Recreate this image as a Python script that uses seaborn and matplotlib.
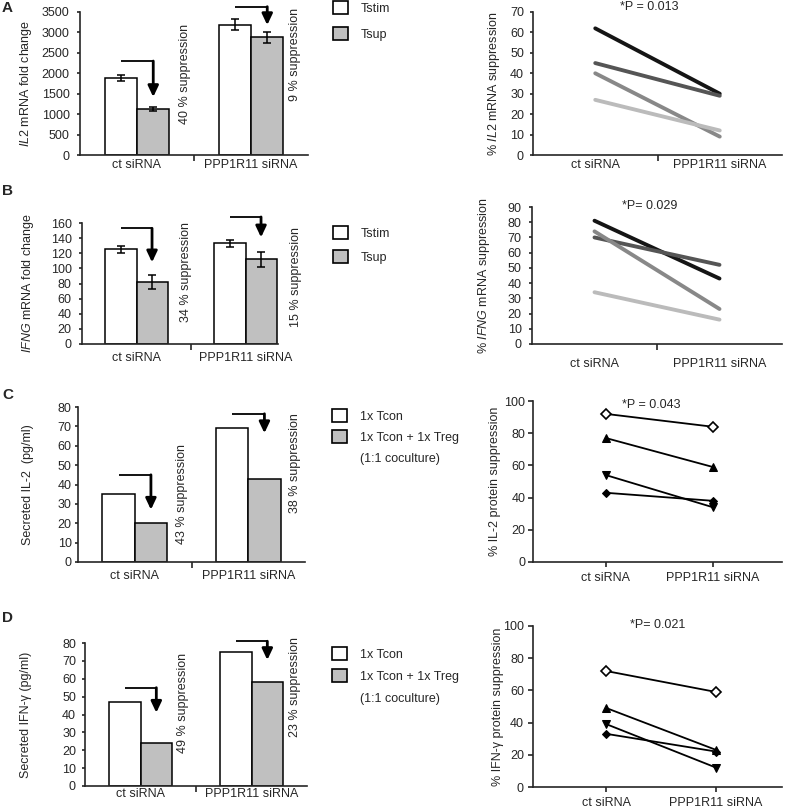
import numpy as np
import pandas as pd
import seaborn as sns
import matplotlib.pyplot as plt
from matplotlib.patches import Patch
from matplotlib.ticker import MultipleLocator, FixedLocator

# %%
# Data
groups = ['ct siRNA', 'PPP1R11 siRNA']
donors = ['d1', 'd2', 'd3', 'd4']

# A: IL2 mRNA
a_names = ['Tstim', 'Tsup']
a_hi = [1880, 3190]
a_lo = [1130, 2880]
a_hi_err = [80, 130]
a_lo_err = [50, 130]
a_supp = ['40 % suppression', '9 % suppression']
a_ct = [62, 45, 40, 27]
a_kd = [30, 29, 9, 12]
a_p = '*P = 0.013'

# B: IFNG mRNA
b_hi = [125, 133]
b_lo = [82, 112]
b_hi_err = [5, 5]
b_lo_err = [9, 10]
b_supp = ['34 % suppression', '15 % suppression']
b_ct = [81, 70, 74, 34]
b_kd = [43, 52, 23, 16]
b_p = '*P= 0.029'

# C: secreted IL-2
c_names = ['1x Tcon', '1x Tcon + 1x Treg']
c_hi = [35, 69]
c_lo = [20, 43]
c_supp = ['43 % suppression', '38 % suppression']
c_ct = [92, 77, 54, 43]
c_kd = [84, 59, 34, 38]
c_p = '*P = 0.043'

# D: secreted IFN-g
d_hi = [47, 75]
d_lo = [24, 58]
d_supp = ['49 % suppression', '23 % suppression']
d_ct = [72, 49, 39, 33]
d_kd = [59, 23, 12, 22]
d_p = '*P= 0.021'

# %%
sns.set_style('ticks')
plt.rcParams['font.family'] = ['Liberation Sans', 'DejaVu Sans']
plt.rcParams['mathtext.fontset'] = 'custom'
plt.rcParams['mathtext.it'] = 'Liberation Sans:italic'
plt.rcParams['mathtext.rm'] = 'Liberation Sans'
plt.rcParams['font.size'] = 9
plt.rcParams['axes.linewidth'] = 1.2
plt.rcParams['xtick.major.width'] = 1.2
plt.rcParams['ytick.major.width'] = 1.2
plt.rcParams['xtick.minor.width'] = 1.2
plt.rcParams['xtick.labelsize'] = 9
plt.rcParams['ytick.labelsize'] = 9
plt.rcParams['axes.labelsize'] = 9

W, H = 790, 809
fig = plt.figure(figsize=(W / 100, H / 100), dpi=100)


def add_ax(x0, y0, x1, y1):
    return fig.add_axes([x0 / W, 1 - y1 / H, (x1 - x0) / W, (y1 - y0) / H])


def ylabel_at(ax, text, xc):
    ax.set_ylabel(text)
    bb = ax.get_position()
    ax.yaxis.set_label_coords((xc + 6) / W, bb.y0 + bb.height / 2, transform=fig.transFigure)


def bar_panel(ax, names, hi, lo, hi_err, lo_err, ymax, ystep, arrows, texts, text_pos,
              xpad, ypad):
    df = pd.DataFrame({'group': groups * 2,
                       'cond': [names[0]] * 2 + [names[1]] * 2,
                       'value': hi + lo})
    sns.barplot(data=df, x='group', y='value', hue='cond',
                palette={names[0]: 'white', names[1]: '#c0c0c0'},
                width=0.57, edgecolor='black', linewidth=1.1, saturation=1,
                errorbar=None, legend=False, ax=ax)
    if hi_err is not None:
        for cont, err in zip(ax.containers, [hi_err, lo_err]):
            xs = [p.get_x() + p.get_width() / 2 for p in cont]
            ys = [p.get_height() for p in cont]
            ax.errorbar(xs, ys, yerr=err, fmt='none', ecolor='black',
                        elinewidth=1.1, capsize=3, capthick=1.1)
    for i in range(2):
        p1, p2 = ax.containers[0][i], ax.containers[1][i]
        x1 = p1.get_x() + p1.get_width() / 2
        x2 = p2.get_x() + p2.get_width() / 2
        ytop, ytip = arrows[i]
        ax.plot([x1, x2], [ytop, ytop], color='black', lw=1.3,
                solid_capstyle='butt', clip_on=False)
        ax.annotate('', xy=(x2, ytip), xytext=(x2, ytop), annotation_clip=False,
                    arrowprops=dict(arrowstyle='-|>,head_length=0.55,head_width=0.26',
                                    lw=2.0, color='black', shrinkA=0, shrinkB=0,
                                    mutation_scale=12))
        ax.text(i + text_pos[i][0], text_pos[i][1], texts[i], rotation=90,
                ha='center', va='center', fontsize=9)
    ax.set_xlim(-0.5, 1.5)
    ax.set_ylim(0, ymax)
    ax.yaxis.set_major_locator(MultipleLocator(ystep))
    ax.set_xticks([0, 1], groups)
    ax.xaxis.set_minor_locator(FixedLocator([0.5]))
    ax.tick_params(axis='x', which='major', length=0, pad=xpad)
    ax.tick_params(axis='x', which='minor', length=4, direction='out')
    ax.tick_params(axis='y', length=2.5, direction='out', pad=ypad)
    ax.set_xlabel('')
    sns.despine(ax=ax)


def excel_lines(ax, ct, kd, ymax, xpad, ypad):
    df = pd.DataFrame({'donor': np.repeat(donors, 2),
                       'group': groups * 4,
                       'value': [v for pair in zip(ct, kd) for v in pair]})
    sns.lineplot(data=df, x='group', y='value', hue='donor', sort=False,
                 palette=['#151515', '#555555', '#888888', '#bbbbbb'],
                 linewidth=2.8, legend=False, ax=ax)
    ax.set_xlim(-0.5, 1.5)
    ax.set_ylim(0, ymax)
    ax.yaxis.set_major_locator(MultipleLocator(10))
    ax.set_xticks([0, 1], groups)
    ax.xaxis.set_minor_locator(FixedLocator([0.5]))
    ax.tick_params(axis='x', which='major', length=0, pad=xpad)
    ax.tick_params(axis='x', which='minor', length=4, direction='out')
    ax.tick_params(axis='y', length=2.5, direction='out', pad=ypad)
    ax.set_xlabel('')
    sns.despine(ax=ax)


def prism_lines(ax, ct, kd, xlim, xpad, ypad):
    df = pd.DataFrame({'donor': np.repeat(donors, 2),
                       'group': groups * 4,
                       'value': [v for pair in zip(ct, kd) for v in pair]})
    sns.lineplot(data=df, x='group', y='value', hue='donor', style='donor', sort=False,
                 palette=['black'] * 4, markers=['D', '^', 'v', 'D'], dashes=False,
                 linewidth=1.3, markersize=6, markeredgecolor='black',
                 legend=False, ax=ax)
    lines = ax.get_lines()
    lines[0].set_markerfacecolor('white')
    lines[0].set_markeredgewidth(1.2)
    lines[0].set_markersize(5.5)
    lines[3].set_markersize(4)
    ax.set_xlim(*xlim)
    ax.set_ylim(0, 100)
    ax.yaxis.set_major_locator(MultipleLocator(20))
    ax.set_xticks([0, 1], groups)
    ax.tick_params(axis='both', length=3.5, direction='out')
    ax.tick_params(axis='x', pad=xpad)
    ax.tick_params(axis='y', pad=ypad)
    ax.set_xlabel('')
    sns.despine(ax=ax)


def legend_at(names, x, y, spacing, extra=None):
    handles = [Patch(facecolor='white', edgecolor='black', linewidth=1.2),
               Patch(facecolor='#c0c0c0', edgecolor='black', linewidth=1.2)]
    labels = list(names)
    if extra:
        handles.append(Patch(facecolor='none', edgecolor='none'))
        labels.append(extra)
    fig.legend(handles, labels, loc='upper left', bbox_to_anchor=(x / W, 1 - y / H),
               frameon=False, borderpad=0, borderaxespad=0, handlelength=1.2,
               handleheight=1.2, handletextpad=1.0, labelspacing=spacing, fontsize=9)


# %%
# Panel A
axA = add_ax(80, 12, 308, 155)
bar_panel(axA, a_names, a_hi, a_lo, a_hi_err, a_lo_err, 3500, 500,
          [(2300, 1420), (3630, 3180)], a_supp, [(0.42, 1980), (0.39, 2470)], 3, 5)
ylabel_at(axA, r'$\mathit{IL2}$ mRNA fold change', 28)
legend_at(a_names, 333, 1, 1.0)

axA2 = add_ax(533, 12, 782, 155)
excel_lines(axA2, a_ct, a_kd, 70, 3, 4)
ylabel_at(axA2, r'% $\mathit{IL2}$ mRNA suppression', 496)
fig.text(649 / W, 1 - 7 / H, a_p, ha='center', va='center', fontsize=9)

# Panel B
axB = add_ax(82, 223, 300, 344)
bar_panel(axB, a_names, b_hi, b_lo, b_hi_err, b_lo_err, 160, 20,
          [(153, 108), (168, 141)], b_supp, [(0.45, 95), (0.46, 89)], 6, 5)
axB.spines['bottom'].set_bounds(-0.5, 1.3)
ylabel_at(axB, r'$\mathit{IFNG}$ mRNA fold change', 30)
legend_at(a_names, 333, 226, 0.85)

axB2 = add_ax(532, 207, 782, 344)
excel_lines(axB2, b_ct, b_kd, 90, 10, 5)
ylabel_at(axB2, r'% $\mathit{IFNG}$ mRNA suppression', 486)
fig.text(650 / W, 1 - 206 / H, b_p, ha='center', va='center', fontsize=9)

# Panel C
axC = add_ax(78, 407, 305, 562)
bar_panel(axC, c_names, c_hi, c_lo, None, None, 80, 10,
          [(45, 27), (76.5, 66.5)], c_supp, [(0.42, 35), (0.41, 51)], 6, 2)
ylabel_at(axC, 'Secreted IL-2  (pg/ml)', 28)
legend_at(c_names, 332, 409, 0.6, '(1:1 coculture)')

axC2 = add_ax(533, 401, 782, 562)
prism_lines(axC2, c_ct, c_kd, (-0.68, 1.645), 4, 2)
ylabel_at(axC2, '% IL-2 protein suppression', 495)
fig.text(651 / W, 1 - 405 / H, c_p, ha='center', va='center', fontsize=9)

# Panel D
axD = add_ax(85, 643, 307, 786)
bar_panel(axD, c_names, d_hi, d_lo, None, None, 80, 10,
          [(55, 41), (81, 70.5)], d_supp, [(0.38, 46.4), (0.39, 55.4)], 1.5, 4)
ylabel_at(axD, 'Secreted IFN-γ (pg/ml)', 26)
legend_at(c_names, 332, 647, 0.7, '(1:1 coculture)')

axD2 = add_ax(533, 626, 782, 787)
prism_lines(axD2, d_ct, d_kd, (-0.67, 1.6), 4, 3)
ylabel_at(axD2, '% IFN-γ protein suppression', 498)
fig.text(658 / W, 1 - 625 / H, d_p, ha='center', va='center', fontsize=9)

# panel letters
for letter, y in zip('ABCD', [1, 184, 388, 611]):
    fig.text(2 / W, 1 - y / H, letter, ha='left', va='top', fontsize=11, fontweight='bold')

fig.savefig('out.png', dpi=100)
